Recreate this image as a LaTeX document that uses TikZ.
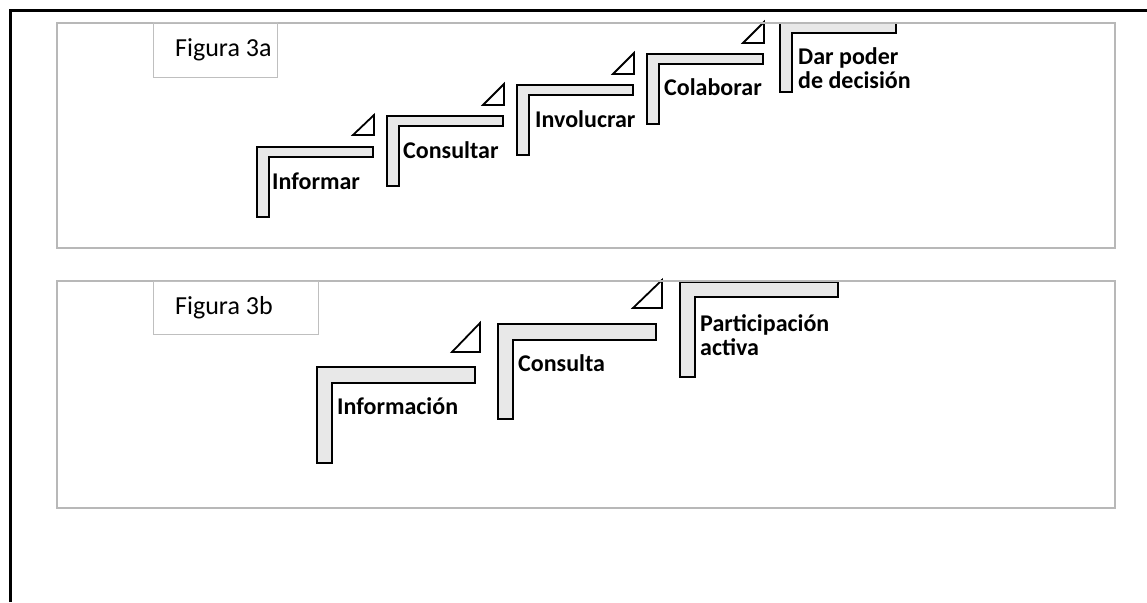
\documentclass[tikz,border=0pt]{standalone}
\usepackage{fontspec}
\setmainfont{Carlito}
\begin{document}
\begin{tikzpicture}[x=1pt,y=-1pt,
  stepshape/.style={draw=black,line width=1.8pt,fill=black!9,line join=miter},
  trishape/.style={draw=black,line width=1.8pt,fill=white,line join=miter},
  panel/.style={draw=black!28,line width=1.6pt},
  figbox/.style={draw=black!25,line width=1pt},
  lbl/.style={font=\fontsize{24}{24}\selectfont\bfseries,anchor=west,inner sep=0pt,align=left},
  figlbl/.style={font=\fontsize{26}{28}\selectfont,anchor=west,inner sep=0pt}]
\useasboundingbox (0,0) rectangle (1147,602);
% outer frame
\draw[line width=2.5pt] (10.5,602) -- (10.5,10.5) -- (1147,10.5);
% L-shaped step: #1,#2 outer corner; #3 right end; #4 bar thickness; #5 vertical thickness; #6 bottom
\newcommand\stairL[6]{%
  \path[stepshape] (#1,#2) -- (#3,#2) -- (#3,{#2+#4}) -- ({#1+#5},{#2+#4}) -- ({#1+#5},#6) -- (#1,#6) -- cycle;}
% triangle: #1,#2 top; #3 bottom-left x; #4 bottom y
\newcommand\stairT[4]{%
  \path[trishape] (#1,#2) -- (#1,#4) -- (#3,#4) -- cycle;}
% ---- panel a ----
\stairL{257}{147}{373}{10}{12}{217}
\stairT{374}{115}{353}{135}
\stairL{387}{116}{503}{10}{12}{186}
\stairT{504}{84}{483}{105}
\stairL{517}{85}{633}{10}{12}{155}
\stairT{634}{53}{613}{74}
\stairL{647}{54}{763}{10}{12}{124}
\stairT{764}{22}{743}{43}
\stairL{780}{23}{896}{10}{12}{92}
\node[lbl] (informar) at (272,181) {Informar};
\node[lbl] (consultar) at (403,150) {Consultar};
\node[lbl] (involucrar) at (535,119) {Involucrar};
\node[lbl] (colaborar) at (664,87) {Colaborar};
\node[lbl] (dar) at (798,68) {Dar poder\\de decisión};
\draw[panel] (57,23) rectangle (1115,248);
\node[figbox,minimum width=124pt,minimum height=54pt,inner sep=0pt] (figa) at (215,50) {};
\node[figlbl] (figatext) at (175,50) {Figura 3a};
% ---- panel b ----
\stairL{317}{367}{475}{16}{15}{463}
\stairT{480}{323}{452}{352}
\stairL{498}{324}{656}{16}{15}{419}
\stairT{662}{280}{633}{308}
\stairL{680}{282}{838}{15}{15}{377}
\node[lbl] (informacion) at (337,406) {Información};
\node[lbl] (consulta) at (518,363) {Consulta};
\node[lbl] (participacion) at (700,335) {Participación\\activa};
\draw[panel] (57,281) rectangle (1115,508);
\node[figbox,minimum width=165pt,minimum height=53pt,inner sep=0pt] (figb) at (235.5,307.5) {};
\node[figlbl] (figbtext) at (175,308) {Figura 3b};
\end{tikzpicture}
\end{document}
